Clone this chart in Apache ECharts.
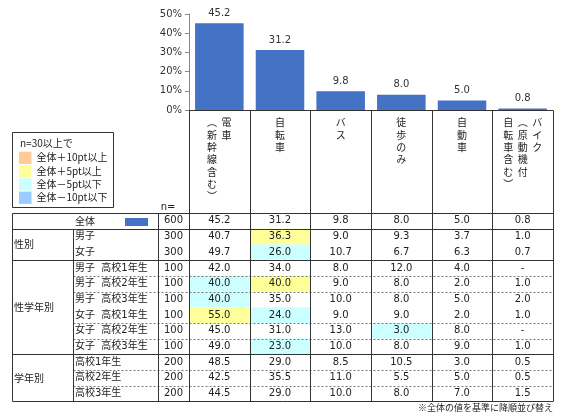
<!DOCTYPE html>
<html>
<head>
<meta charset="utf-8">
<script src="https://cdn.jsdelivr.net/npm/echarts/dist/echarts.min.js"></script>
<style>
html,body{margin:0;padding:0;background:#fff;}
#main{width:567px;height:417px;}
</style>
</head>
<body>
<div id="main"></div>
<script>
// カテゴリ（縦書き見出しは右の列から）
var categories = ['電車（新幹線含む）', '自転車', 'バス', '徒歩のみ', '自動車', 'バイク（原動機付自転車含む）'];
var headerLines = [['電車', '（新幹線含む）'], ['自転車'], ['バス'], ['徒歩のみ'], ['自動車'], ['バイク', '（原動機付', '自転車含む）']];
// 全体
var totalN = 600;
var totalVals = [45.2, 31.2, 9.8, 8.0, 5.0, 0.8];
// 属性別
var rowLabels = ['男子', '女子',
  '男子  高校1年生', '男子  高校2年生', '男子  高校3年生',
  '女子  高校1年生', '女子  高校2年生', '女子  高校3年生',
  '高校1年生', '高校2年生', '高校3年生'];
var rowN = [300, 300, 100, 100, 100, 100, 100, 100, 200, 200, 200];
var rowVals = [
  [40.7, 36.3, 9.0, 9.3, 3.7, 1.0],
  [49.7, 26.0, 10.7, 6.7, 6.3, 0.7],
  [42.0, 34.0, 8.0, 12.0, 4.0, null],
  [40.0, 40.0, 9.0, 8.0, 2.0, 1.0],
  [40.0, 35.0, 10.0, 8.0, 5.0, 2.0],
  [55.0, 24.0, 9.0, 9.0, 2.0, 1.0],
  [45.0, 31.0, 13.0, 3.0, 8.0, null],
  [49.0, 23.0, 10.0, 8.0, 9.0, 1.0],
  [48.5, 29.0, 8.5, 10.5, 3.0, 0.5],
  [42.5, 35.5, 11.0, 5.5, 5.0, 0.5],
  [44.5, 29.0, 10.0, 8.0, 7.0, 1.5]
];
var groups = [['性別', 0, 2], ['性学年別', 2, 6], ['学年別', 8, 3]];
var dashAfter = [2, 3, 5, 6, 8, 9];
var legendItems = ['全体＋10pt以上', '全体＋5pt以上', '全体－5pt以下', '全体－10pt以下'];
var legendColors = ['#FFCC99', '#FFFF99', '#CCFFFF', '#99CCFF'];

var JP = '"Noto Sans CJK JP"';
var NUM = '"DejaVu Sans", "Noto Sans CJK JP"';
var BLUE = '#4472C4';

var myChart = echarts.init(document.getElementById('main'));
var option = {
  animation: false,
  grid: {left: 189, right: 14, top: 14, bottom: 307},
  xAxis: {
    type: 'category',
    data: categories,
    axisLine: {lineStyle: {color: '#333'}},
    axisTick: {show: false},
    axisLabel: {show: false}
  },
  yAxis: {
    type: 'value', min: 0, max: 50, interval: 10,
    axisLine: {show: true, lineStyle: {color: '#888'}},
    axisTick: {show: true, length: 4, lineStyle: {color: '#888'}},
    splitLine: {show: false},
    axisLabel: {formatter: '{value}%', color: '#333', fontSize: 10, margin: 7, fontFamily: NUM}
  },
  series: [{
    type: 'bar',
    data: totalVals,
    barCategoryGap: '20%',
    itemStyle: {color: BLUE},
    label: {
      show: true, position: 'top', distance: 5, color: '#333', fontSize: 10, fontFamily: NUM,
      formatter: function (p) { return p.value.toFixed(1); }
    }
  }]
};
myChart.setOption(option);

// 表を描く
var g = [];
function px(v) { return Math.round(v) + 0.5; }
function line(x1, y1, x2, y2, dash) {
  g.push({type: 'line', silent: true, z: 10,
    shape: {x1: x1, y1: y1, x2: x2, y2: y2},
    style: {stroke: dash ? '#777' : '#333', lineWidth: 1, lineDash: dash ? [2, 2] : null}});
}
function rect(x, y, w, h, fill, stroke) {
  g.push({type: 'rect', silent: true, z: stroke ? 9 : 12,
    shape: {x: x, y: y, width: w, height: h},
    style: {fill: fill || 'none', stroke: stroke || null, lineWidth: 1}});
}
function cell(x, y, w, h, fill) {
  g.push({type: 'rect', silent: true, z: 5,
    shape: {x: x, y: y, width: w, height: h}, style: {fill: fill}});
}
function text(x, y, s, align, font, size, vAlign, lh) {
  g.push({type: 'text', silent: true, z: 20, x: x, y: y,
    style: {text: s, fill: '#222', fontSize: size || 10, fontFamily: font || JP,
      align: align || 'center', verticalAlign: vAlign || 'middle',
      textAlign: align || 'center', textVerticalAlign: vAlign || 'middle',
      lineHeight: lh || null}});
}
function hiColor(v, base, n) {
  if (v == null || n < 30) return null;
  var d = Math.round((v - base) * 10) / 10;
  if (d >= 10) return legendColors[0];
  if (d >= 5) return legendColors[1];
  if (d <= -10) return legendColors[3];
  if (d <= -5) return legendColors[2];
  return null;
}
function fmt(v) { return v == null ? '-' : v.toFixed(1); }

var centers = categories.map(function (c, i) { return myChart.convertToPixel({xAxisIndex: 0}, i); });
var half = (centers[1] - centers[0]) / 2;
var bounds = centers.map(function (c) { return c - half; });
bounds.push(centers[centers.length - 1] + half);

var axisY = 110, T = 213, rowH = 15.7;
var xL = 12, xSub = 73, xN = 158, xR = bounds[bounds.length - 1];
var nRows = rowLabels.length + 1;
var yB = T + nRows * rowH;
function rowTop(i) { return T + i * rowH; }

// 縦書き見出し
var vmap = {'（': '︵', '）': '︶'};
headerLines.forEach(function (cols, i) {
  var k = cols.length, sp = 14.5;
  cols.forEach(function (s, j) {
    var chars = s.split('').map(function (ch) { return vmap[ch] || ch; }).join('\n');
    text(centers[i] + ((k - 1) / 2 - j) * sp, 116.5, chars, 'center', JP, 10, 'top', 12.3);
  });
});

// 凡例
rect(px(xL), px(132), 101, 75, '#fff', '#333');
text(20, 143.5, 'n=30以上で', 'left', JP, 10);
legendItems.forEach(function (s, i) {
  var cy = 157.7 + i * 13.3;
  rect(19, cy - 6, 12.5, 12.3, legendColors[i]);
  text(36.5, cy, s, 'left', JP, 10);
});
text(168, 207, 'n=', 'center', NUM, 10);

// 全体行
text(85, rowTop(0) + rowH / 2, '全体', 'center', JP, 10);
rect(125, 218, 23, 8, BLUE);
text((xN + bounds[0]) / 2, rowTop(0) + rowH / 2, String(totalN), 'center', NUM, 10);
totalVals.forEach(function (v, j) {
  text(centers[j], rowTop(0) + rowH / 2, fmt(v), 'center', NUM, 10);
});

// 属性行
rowLabels.forEach(function (lab, r) {
  var y0 = rowTop(r + 1), cy = y0 + rowH / 2;
  text(xSub + 2, cy, lab, 'left', NUM, 10);
  text((xN + bounds[0]) / 2, cy, String(rowN[r]), 'center', NUM, 10);
  rowVals[r].forEach(function (v, j) {
    var c = hiColor(v, totalVals[j], rowN[r]);
    if (c) cell(bounds[j], y0, bounds[j + 1] - bounds[j], rowH, c);
    text(centers[j], cy, fmt(v), 'center', NUM, 10);
  });
});
groups.forEach(function (gr) {
  var y0 = rowTop(gr[1] + 1);
  text(xL + 2, y0 + gr[2] * rowH / 2, gr[0], 'left', JP, 10);
  line(px(xL), px(y0 + gr[2] * rowH), xR, px(y0 + gr[2] * rowH));
});
dashAfter.forEach(function (r) {
  var y = px(rowTop(r + 2));
  line(px(xSub), y, xR, y, true);
});

// 罫線
line(px(xL), px(T), xR, px(T));
line(px(xL), px(rowTop(1)), xR, px(rowTop(1)));
line(px(xL), px(T), px(xL), px(yB));
line(px(xSub), px(rowTop(1)), px(xSub), px(yB));
line(px(xN), px(T), px(xN), px(yB));
bounds.forEach(function (b) { line(px(b), px(axisY), px(b), px(yB)); });

text(xR, 408, '※全体の値を基準に降順並び替え', 'right', JP, 9);

myChart.setOption({graphic: {elements: g}});
window.onresize = myChart.resize;
</script>
</body>
</html>
